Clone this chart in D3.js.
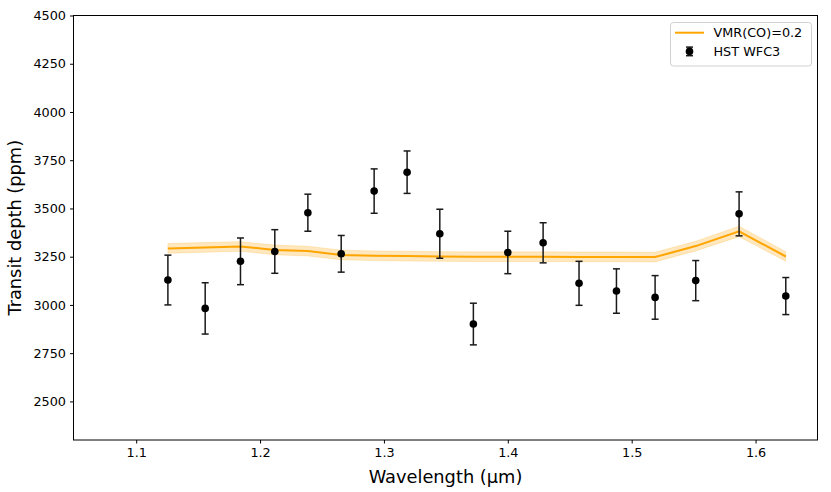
<!DOCTYPE html>
<html>
<head>
<meta charset="utf-8">
<script src="https://cdn.jsdelivr.net/npm/d3@7"></script>
<style>
  body { margin: 0; background: #fff; }
  svg { font-family: "DejaVu Sans", sans-serif; }
</style>
</head>
<body>
<div id="chart"></div>
<script>
// HST WFC3 data points
const wavelength = [1.1256, 1.1557, 1.1842, 1.2119, 1.2386, 1.2655, 1.2921, 1.3187, 1.3451,
                    1.3722, 1.4000, 1.4285, 1.4575, 1.4877, 1.5189, 1.5517, 1.5867, 1.6244];
const depth = [3129, 2982, 3226, 3277, 3478, 3265, 3590, 3688, 3369,
               2901, 3272, 3322, 3112, 3072, 3039, 3126, 3472, 3046];
const depthErr = [129, 133, 121, 113, 96, 95, 115, 110, 127,
                  108, 110, 104, 114, 115, 113, 104, 114, 96];

// model VMR(CO)=0.2, sampled at the same wavelengths
const model = [3293, 3298, 3303, 3285, 3279, 3259, 3255, 3253, 3251,
               3250, 3250, 3250, 3249, 3249, 3248, 3305, 3381, 3251];
const modelErr = [25, 25, 25, 25, 25, 25, 25, 25, 25,
                  25, 25, 25, 25, 25, 25, 25, 27, 25];

const xTicks = [1.1, 1.2, 1.3, 1.4, 1.5, 1.6];
const yTicks = [2500, 2750, 3000, 3250, 3500, 3750, 4000, 4250, 4500];

const W = 831, H = 492;
const margin = {top: 15.5, right: 13.5, bottom: 52, left: 73.5};
const width = W - margin.left - margin.right;
const height = H - margin.top - margin.bottom;

const svg = d3.select("#chart")
    .append("svg")
    .attr("width", W)
    .attr("height", H);

const g = svg.append("g")
    .attr("transform", `translate(${margin.left},${margin.top})`);

const x = d3.scaleLinear().domain([1.0494, 1.65]).range([0, width]);
const y = d3.scaleLinear().domain([2300, 4500]).range([height, 0]);

const pts = wavelength.map((w, k) => ({w, d: depth[k], e: depthErr[k], m: model[k], me: modelErr[k]}));

// model band + line
g.append("path")
    .datum(pts)
    .attr("fill", "orange")
    .attr("fill-opacity", 0.25)
    .attr("stroke", "orange")
    .attr("stroke-opacity", 0.2)
    .attr("stroke-width", 1)
    .attr("d", d3.area()
        .x(d => x(d.w))
        .y0(d => y(d.m - d.me))
        .y1(d => y(d.m + d.me)));

g.append("path")
    .datum(pts)
    .attr("fill", "none")
    .attr("stroke", "orange")
    .attr("stroke-width", 2)
    .attr("d", d3.line()
        .x(d => x(d.w))
        .y(d => y(d.m)));

// error bars
const bars = g.selectAll(".ebar")
    .data(pts)
    .enter()
    .append("g")
    .attr("class", "ebar")
    .attr("stroke", "#1a1a1a")
    .attr("stroke-width", 1.5);

bars.append("line")
    .attr("x1", d => x(d.w)).attr("x2", d => x(d.w))
    .attr("y1", d => y(d.d - d.e)).attr("y2", d => y(d.d + d.e));
bars.append("line")
    .attr("x1", d => x(d.w) - 3.5).attr("x2", d => x(d.w) + 3.5)
    .attr("y1", d => y(d.d + d.e)).attr("y2", d => y(d.d + d.e));
bars.append("line")
    .attr("x1", d => x(d.w) - 3.5).attr("x2", d => x(d.w) + 3.5)
    .attr("y1", d => y(d.d - d.e)).attr("y2", d => y(d.d - d.e));

g.selectAll(".dot")
    .data(pts)
    .enter()
    .append("circle")
    .attr("class", "dot")
    .attr("cx", d => x(d.w))
    .attr("cy", d => y(d.d))
    .attr("r", 3.8)
    .attr("fill", "black");

// axes
const xAxis = g.append("g")
    .attr("transform", `translate(0,${height})`)
    .call(d3.axisBottom(x).tickValues(xTicks).tickFormat(d3.format(".1f")).tickSizeOuter(0).tickSize(3.5).tickPadding(4.5));
const yAxis = g.append("g")
    .call(d3.axisLeft(y).tickValues(yTicks).tickFormat(d3.format("d")).tickSizeOuter(0).tickSize(3.5).tickPadding(4));

[xAxis, yAxis].forEach(a => {
    a.attr("font-family", "DejaVu Sans");
    a.selectAll("text").attr("font-size", "12.8px").attr("fill", "#000");
    a.selectAll("line").attr("stroke", "#000").attr("stroke-width", 1);
    a.select(".domain").remove();
});

// frame
g.append("rect")
    .attr("width", width)
    .attr("height", height)
    .attr("fill", "none")
    .attr("stroke", "#000")
    .attr("stroke-width", 1);

// axis labels
svg.append("text")
    .attr("x", margin.left + width / 2)
    .attr("y", 483)
    .attr("text-anchor", "middle")
    .attr("font-size", "17.8px")
    .text("Wavelength (µm)");

svg.append("text")
    .attr("transform", `translate(21,${margin.top + height / 2}) rotate(-90)`)
    .attr("text-anchor", "middle")
    .attr("font-size", "17.8px")
    .text("Transit depth (ppm)");

// legend
const lg = svg.append("g").attr("transform", "translate(670.5,22.5)");
lg.append("rect")
    .attr("width", 141)
    .attr("height", 43.5)
    .attr("rx", 3)
    .attr("fill", "#fff")
    .attr("fill-opacity", 0.8)
    .attr("stroke", "#d0d0d0")
    .attr("stroke-width", 1);
lg.append("line")
    .attr("x1", 4.5).attr("x2", 33.5)
    .attr("y1", 10.2).attr("y2", 10.2)
    .attr("stroke", "orange").attr("stroke-width", 2);
lg.append("text")
    .attr("x", 43).attr("y", 14.8)
    .attr("font-size", "12.8px")
    .text("VMR(CO)=0.2");
const le = lg.append("g").attr("stroke", "#1a1a1a").attr("stroke-width", 1.5);
le.append("line").attr("x1", 19).attr("x2", 19).attr("y1", 24.6).attr("y2", 33.2);
le.append("line").attr("x1", 15.5).attr("x2", 22.5).attr("y1", 24.6).attr("y2", 24.6);
le.append("line").attr("x1", 15.5).attr("x2", 22.5).attr("y1", 33.2).attr("y2", 33.2);
lg.append("circle").attr("cx", 19).attr("cy", 28.9).attr("r", 3.8).attr("fill", "black");
lg.append("text")
    .attr("x", 43).attr("y", 33.5)
    .attr("font-size", "12.8px")
    .text("HST WFC3");
</script>
</body>
</html>
